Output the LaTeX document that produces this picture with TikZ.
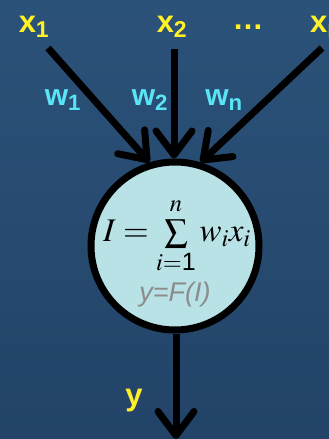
\documentclass[tikz,border=0pt]{standalone}
\usepackage{mathptmx}
\usepackage{fontspec}
\setmainfont{Liberation Sans}
\usetikzlibrary{arrows.meta}

\definecolor{bgtop}{RGB}{43,82,121}
\definecolor{bgbottom}{RGB}{35,67,104}
\definecolor{inyellow}{RGB}{255,240,40}
\definecolor{wcyan}{RGB}{90,228,245}
\definecolor{cellfill}{RGB}{184,226,230}
\definecolor{outgray}{RGB}{140,140,140}

\begin{document}
\begin{tikzpicture}[x=1pt,y=-1pt,
    inlabel/.style={text=inyellow, inner sep=0pt, font=\fontsize{31}{33}\selectfont\bfseries},
    wlabel/.style={text=wcyan, inner sep=0pt, font=\fontsize{30}{32}\selectfont\bfseries},
    link/.style={line width=7pt, -{Straight Barb[round,length=24pt,width=36pt]}}]
  \useasboundingbox (0,0) rectangle (329,439);

  % Background
  \shade[top color=bgtop, bottom color=bgbottom] (0,0) rectangle (329,439);

  % Inputs
  \node[inlabel] (x1) at (34,27) {x\textsubscript{1}};
  \node[inlabel] (x2) at (172,27) {x\textsubscript{2}};
  \node[inlabel] (dots) at (248,27) {\dots};
  \node[inlabel] (xn) at (326,27) {x\textsubscript{n}};

  % Neuron
  \node[circle, draw=black, line width=7pt, fill=cellfill, minimum size=168pt, inner sep=0pt] (neuron) at (175,246) {};
  \node (sum) at (177,236) {\fontsize{33}{38}\selectfont$I=\sum\limits_{i=\mbox{\fontsize{25}{27}\selectfont\rmfamily 1}}^{\rule[-4pt]{0pt}{4pt}n} w_i x_i$};
  \node[text=outgray, font=\fontsize{27}{29}\selectfont\itshape] (act) at (175,295) {y=F(I)};

  % Weighted connections
  \coordinate (s1) at (48,48);
  \coordinate (s2) at (174,49);
  \coordinate (sn) at (322,48);
  \draw[link] (s1) -- (neuron.107);
  \draw[link] (s2) -- (neuron.north -| s2);
  \draw[link] (sn) -- (neuron.73);

  \node[wlabel] (w1) at (63,100) {w\textsubscript{1}};
  \node[wlabel] (w2) at (150,100) {w\textsubscript{2}};
  \node[wlabel] (wn) at (224,100) {w\textsubscript{n}};

  % Output
  \coordinate (out) at (176,439);
  \draw[link] (neuron.south -| out) -- (out);
  \node[inlabel] (y) at (134,401) {y};
\end{tikzpicture}
\end{document}
